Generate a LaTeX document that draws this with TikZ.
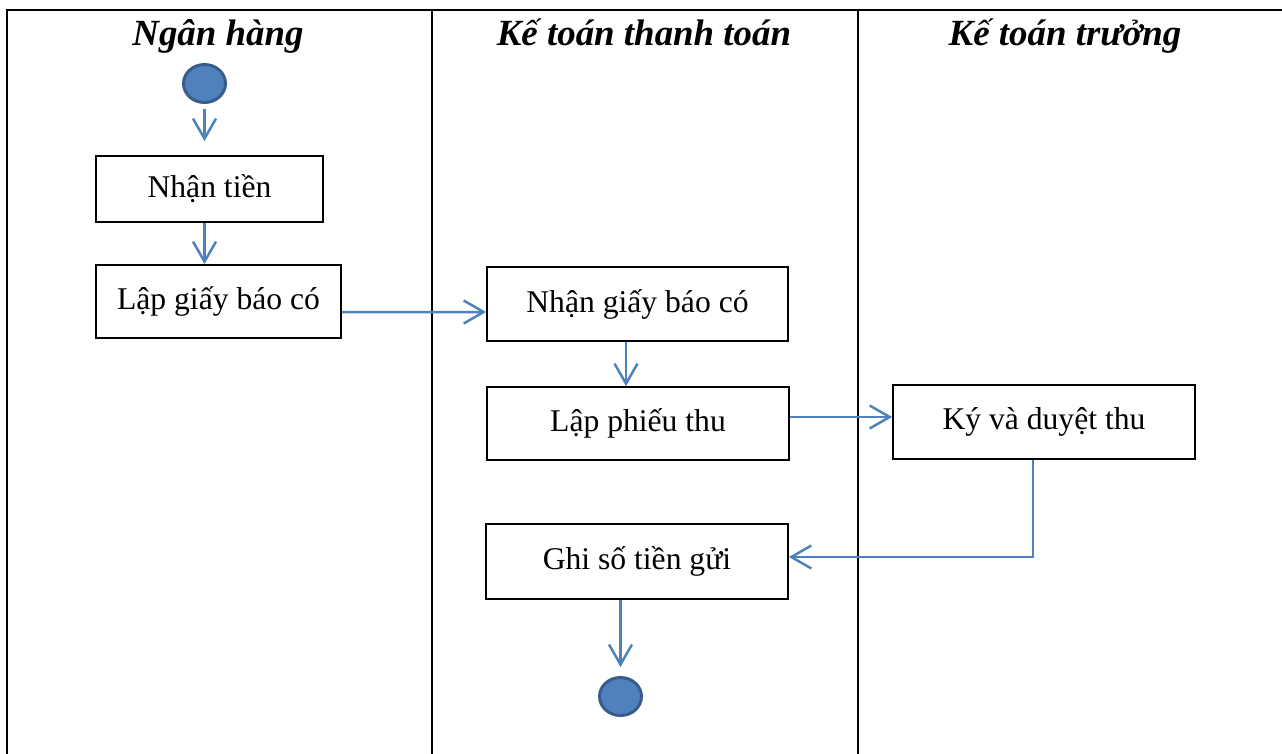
\documentclass[tikz,border=0pt]{standalone}
\usepackage{fontspec}
\setmainfont{Liberation Serif}
\usetikzlibrary{arrows.meta,positioning,calc,shapes.geometric}
\definecolor{flowblue}{HTML}{4F81BD}
\definecolor{flowdark}{HTML}{385D8A}
\tikzset{
  lane/.style={draw=black, line width=0.055cm},
  lanehead/.style={anchor=base, font=\fontsize{21}{25}\selectfont\bfseries\itshape},
  actbox/.style={draw=black, line width=0.035cm, fill=white, align=center,
                 inner sep=0pt, font=\fontsize{18}{22}\selectfont},
  dot/.style={ellipse, draw=flowdark, fill=flowblue, line width=0.06cm,
              minimum width=0.84cm, minimum height=0.76cm, inner sep=0pt},
  flow/.style={-{Straight Barb[length=0.4cm, width=0.46cm]}, line width=0.05cm, color=flowblue}}

\begin{document}
\begin{tikzpicture}[x=0.02cm, y=-0.02cm]
    \useasboundingbox (0,0) rectangle (1282,754);
    % swimlanes
    \draw[lane] (7,754) -- (7,10) -- (1282,10);
    \draw[lane] (432,10) -- (432,754);
    \draw[lane] (858,10) -- (858,754);
    \node[lanehead] (bank) at (218,45) {Ngân hàng};
    \node[lanehead] (payacc) at (644,45) {Kế toán thanh toán};
    \node[lanehead] (chief) at (1065,45) {Kế toán trưởng};
    % activities
    \node[dot] (start) at (204.5,83.5) {};
    \node[actbox, minimum width=4.54cm, minimum height=1.32cm] (nhantien) at (209.5,189) {Nhận tiền};
    \node[actbox, minimum width=4.9cm, minimum height=1.46cm] (lapgiay) at (218.5,301.5) {Lập giấy báo có};
    \node[actbox, minimum width=6.02cm, minimum height=1.48cm] (nhangiay) at (637.5,304) {Nhận giấy báo có};
    \node[actbox, minimum width=6.04cm, minimum height=1.46cm] (lapphieu) at (638,423.5) {Lập phiếu thu};
    \node[actbox, minimum width=6.04cm, minimum height=1.48cm] (kyduyet) at (1044,422) {Ký và duyệt thu};
    \node[actbox, minimum width=6.04cm, minimum height=1.5cm] (ghiso) at (637,561.5) {Ghi số tiền gửi};
    \node[dot] (stop) at (620.5,696.5) {};
    % control flow
    \draw[flow, shorten <=0.1cm, shorten >=0.28cm] (start.south) -- (start.south |- nhantien.north);
    \draw[flow] (start.south |- nhantien.south) -- (start.south |- lapgiay.north);
    \draw[flow] ($(lapgiay.east)+(0,10.5)$) -- ($(nhangiay.west)+(0,8)$);
    \draw[flow] ($(nhangiay.south)+(-11.5,0)$) -- ($(lapphieu.north)+(-12,0)$);
    \draw[flow] ($(lapphieu.east)+(0,-6.5)$) -- ($(kyduyet.west)+(0,-5)$);
    \draw[flow] ($(kyduyet.south)+(-11,0)$) |- ($(ghiso.east)+(0,-4.5)$);
    \draw[flow, shorten >=0.18cm] (stop.north |- ghiso.south) -- (stop.north);
  \end{tikzpicture}
\end{document}
